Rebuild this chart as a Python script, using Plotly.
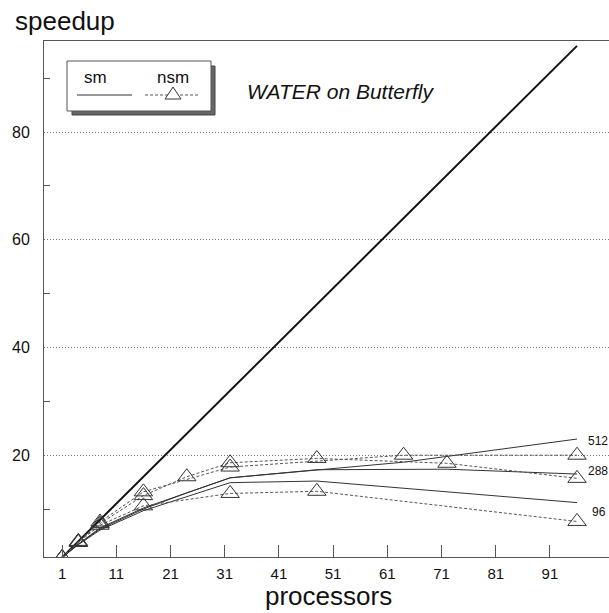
import plotly.graph_objects as go

# ---------------- data ----------------
ideal_x = [1, 96]
ideal_y = [1, 96]

sm96_x = [1, 4, 8, 16, 32, 48, 96]
sm96_y = [1, 3.4, 6.1, 9.7, 14.9, 15.2, 11.2]
sm288_x = [1, 4, 8, 16, 24, 32, 48, 72, 96]
sm288_y = [1, 3.5, 6.3, 10.0, 13.0, 15.8, 17.3, 17.4, 16.5]
sm512_x = [1, 4, 8, 16, 32, 64, 96]
sm512_y = [1, 3.5, 6.5, 10.2, 15.8, 18.7, 23.0]

nsm96_x = [1, 4, 8, 16, 32, 48, 96]
nsm96_y = [1, 3.8, 7.0, 10.6, 12.9, 13.3, 7.7]
nsm288_x = [1, 4, 8, 16, 24, 32, 48, 72, 96]
nsm288_y = [1, 3.9, 7.3, 12.5, 16.0, 18.6, 19.4, 18.5, 15.7]
nsm512_x = [1, 4, 8, 16, 32, 64, 96]
nsm512_y = [1, 4.0, 7.6, 13.2, 17.8, 20.0, 20.0]

size_labels = ["96", "288", "512"]
x_ticks = [1, 11, 21, 31, 41, 51, 61, 71, 81, 91]
y_ticks = [20, 40, 60, 80]

FONT = "Liberation Sans, Arial, Helvetica, sans-serif"
W, H = 609, 613
ML, MR, MT, MB = 44, 0, 41, 56


def px(x):
    return (x - ML) / (W - ML - MR)


def py(y):
    return (H - MB - y) / (H - MT - MB)


fig = go.Figure()

fig.add_trace(go.Scatter(x=ideal_x, y=ideal_y, mode="lines",
                         line=dict(color="#111", width=2), showlegend=False))

for xs, ys in [(sm96_x, sm96_y), (sm288_x, sm288_y), (sm512_x, sm512_y)]:
    fig.add_trace(go.Scatter(x=xs, y=ys, mode="lines",
                             line=dict(color="#333", width=1), showlegend=False))

for xs, ys in [(nsm96_x, nsm96_y), (nsm288_x, nsm288_y), (nsm512_x, nsm512_y)]:
    fig.add_trace(go.Scatter(x=xs, y=ys, mode="lines+markers",
                             line=dict(color="#555", width=1, dash="3px,2px"),
                             marker=dict(symbol="triangle-up-open", size=16,
                                         color="#333", line=dict(width=1)),
                             showlegend=False))

# end labels for problem sizes
ann = []
for lab, ys, xs, shift in [("96", sm96_y, sm96_x, -9),
                            ("288", sm288_y, sm288_x, 3),
                            ("512", sm512_y, sm512_x, -2)]:
    ann.append(dict(x=xs[-1], y=ys[-1], xref="x", yref="y", text=lab,
                    showarrow=False, xanchor="left", yanchor="middle",
                    xshift=9 if lab != "96" else 13, yshift=shift,
                    font=dict(family=FONT, size=12, color="#111")))

# axis titles and chart title
ann.append(dict(x=px(13), y=py(21), xref="paper", yref="paper", text="speedup",
                showarrow=False, xanchor="left", yanchor="middle",
                font=dict(family=FONT, size=26, color="#111")))
ann.append(dict(x=px(328), y=py(596), xref="paper", yref="paper", text="processors",
                showarrow=False, xanchor="center", yanchor="middle",
                font=dict(family=FONT, size=26, color="#111")))
ann.append(dict(x=px(245), y=py(92), xref="paper", yref="paper",
                text="<i>WATER on Butterfly</i>",
                showarrow=False, xanchor="left", yanchor="middle",
                font=dict(family=FONT, size=21, color="#111")))
# legend texts
ann.append(dict(x=px(95), y=py(77), xref="paper", yref="paper", text="sm",
                showarrow=False, xanchor="center", yanchor="middle",
                font=dict(family=FONT, size=17, color="#111")))
ann.append(dict(x=px(173), y=py(77), xref="paper", yref="paper", text="nsm",
                showarrow=False, xanchor="center", yanchor="middle",
                font=dict(family=FONT, size=17, color="#111")))

shapes = [
    # legend shadow
    dict(type="rect", xref="paper", yref="paper", x0=px(72), x1=px(215),
         y0=py(66), y1=py(115), fillcolor="#666", line=dict(color="#444", width=1),
         layer="above"),
    # legend box
    dict(type="rect", xref="paper", yref="paper", x0=px(67), x1=px(211),
         y0=py(61), y1=py(111), fillcolor="white", line=dict(color="#555", width=1),
         layer="above"),
    # legend samples
    dict(type="line", xref="paper", yref="paper", x0=px(77), x1=px(132),
         y0=py(95), y1=py(95), line=dict(color="#333", width=1), layer="above"),
    dict(type="line", xref="paper", yref="paper", x0=px(145), x1=px(200),
         y0=py(95), y1=py(95), line=dict(color="#555", width=1, dash="3px,2px"),
         layer="above"),
    dict(type="path", xref="paper", yref="paper",
         path="M {},{} L {},{} L {},{} Z".format(px(165), py(99), px(181), py(99),
                                                px(173), py(87)),
         fillcolor="white", line=dict(color="#333", width=1), layer="above"),
]

fig.update_layout(
    width=W, height=H,
    margin=dict(l=ML, r=MR, t=MT, b=MB, pad=0),
    paper_bgcolor="white", plot_bgcolor="white",
    annotations=ann, shapes=shapes,
    font=dict(family=FONT, color="#111"),
)

fig.update_xaxes(
    range=[-2.34, 101.9], tickmode="array", tickvals=x_ticks,
    ticktext=[str(v) for v in x_ticks],
    ticks="inside", ticklen=12, tickcolor="#555", tickwidth=1,
    showline=True, linecolor="#555", linewidth=1, mirror=True,
    showgrid=False, zeroline=False,
    tickfont=dict(family=FONT, size=15, color="#111"),
    ticklabelstandoff=3,
)
fig.update_yaxes(
    range=[1.1, 96.9], tickmode="array", tickvals=y_ticks,
    ticktext=[str(v) for v in y_ticks],
    ticks="", showline=True, linecolor="#555", linewidth=1,
    showgrid=True, gridcolor="#777", gridwidth=1, griddash="1px,2px",
    zeroline=False,
    tickfont=dict(family=FONT, size=16, color="#111"),
    ticklabelstandoff=10,
    minor=dict(tickmode="array", tickvals=[10, 30, 50, 70, 90], ticks="inside",
               ticklen=6, tickcolor="#555", showgrid=False),
)

fig.write_html("out.html")
